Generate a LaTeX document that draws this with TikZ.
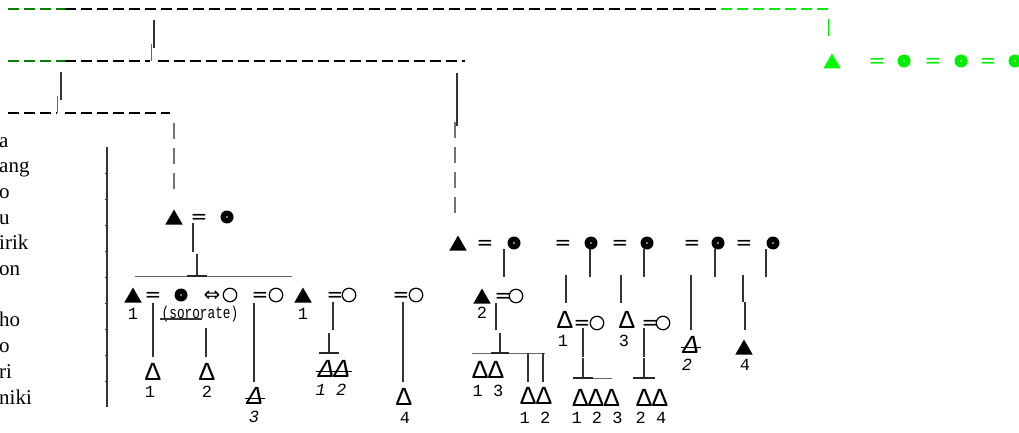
\documentclass[tikz,border=0pt]{standalone}
\usepackage{fontspec}
\usepackage{graphicx}
\setmainfont{Liberation Serif}
\newfontfamily\monof{Liberation Mono}
\newfontfamily\symf{DejaVu Sans}
\usetikzlibrary{shapes.geometric}
\definecolor{dkgreen}{RGB}{0,128,0}
\definecolor{ltgreen}{RGB}{0,240,0}

\tikzset{
  link/.style={line width=1.4pt, black!80},
  thinlink/.style={line width=0.8pt, black!60},
  barline/.style={line width=2pt, black!85},
  kin/.style={line width=1.3pt, dash pattern=on 11pt off 5pt},
  drop/.style={line width=1.1pt, black!55, dash pattern=on 16pt off 9pt},
  male/.style={regular polygon, regular polygon sides=3, fill, inner sep=0pt, minimum size=20pt, yshift=-2.5pt},
  fem/.style={circle, fill, inner sep=0pt, minimum size=13pt,
    path picture={\fill[white] (path picture bounding box.center) circle (0.9pt);}},
  wife/.style={circle, draw, line width=1.2pt, inner sep=0pt, minimum size=13.5pt},
  eq/.style={font=\symf\fontsize{20}{20}\selectfont, inner sep=0pt, anchor=base, yshift=-6.4pt},
  son/.style={font=\monof\fontsize{26}{26}\selectfont, inner sep=0pt, anchor=base, yshift=-7pt},
  sonit/.style={font=\monof\itshape\fontsize{26}{26}\selectfont, inner sep=0pt, anchor=base, yshift=-7pt},
  num/.style={font=\monof\fontsize{17}{17}\selectfont, inner sep=0pt, anchor=base, yshift=-5pt},
  numit/.style={font=\monof\itshape\fontsize{17}{17}\selectfont, inner sep=0pt, anchor=base, yshift=-5pt},
  word/.style={font=\fontsize{21}{21}\selectfont, inner sep=0pt, anchor=base west},
}
\newcommand\strike[1]{\draw[line width=1.6pt] ([xshift=-2pt,yshift=-3pt]#1.west) -- ([xshift=2pt,yshift=-3pt]#1.east);}
\newcommand\tee[4]{% x of stem, top, bottom, bar half width
  \draw[link] (#1,#2) -- (#1,#3);
  \draw[barline] (#1-#4,#3+1) -- (#1+#4,#3+1);}

\begin{document}
\begin{tikzpicture}[x=1pt, y=-1pt]
  \useasboundingbox (0,0) rectangle (1019,433);

  % lineage lines at the top
  \draw[kin, dkgreen] (8,9) -- (65,9);
  \draw[kin] (65,9) -- (721,9);
  \draw[kin, ltgreen] (721,9) -- (828,9);
  \draw[ltgreen, line width=1pt] (828,19) -- (828,36);
  \draw[link] (154,20) -- (154,48);
  \draw[thinlink] (151,44) -- (151,61);
  \draw[kin, dkgreen] (8,61) -- (65,61);
  \draw[kin] (65,61) -- (150,61) (158,61) -- (465,61);
  \draw[link] (61,72) -- (61,100);
  \draw[thinlink] (57,96) -- (57,113);
  \draw[kin] (8,113) -- (57,113) (65,113) -- (170,113);
  \draw[drop] (174,123) -- (174,191);
  \draw[link] (457,73) -- (457,126);
  \draw[drop] (455,122) -- (455,217);

  % green line on the right
  \node[male, green] (gm) at (832,61) {};
  \node[eq, text=ltgreen] (ge1) at (877,61) {=};
  \node[fem, ltgreen] (gf1) at (904,61) {};
  \node[eq, text=ltgreen] (ge2) at (933,61) {=};
  \node[fem, ltgreen] (gf2) at (961,61) {};
  \node[eq, text=ltgreen] (ge3) at (988,61) {=};
  \node[fem, ltgreen] (gf3) at (1015,61) {};

  % names on the left
  \foreach \w [count=\i from 0] in {a,ang,o,u,irik,on,{},ho,o,ri,niki}
    \node[word] (w\i) at (-1,147+25.7*\i) {\w};
  \draw[line width=1.5pt, black!80] (107,147) -- (107,407);
  \foreach \k in {1,...,9}
    \draw[line width=1pt, black!80] (105,147+26*\k) -- (107,147+26*\k);

  % first family
  \node[male] (fA) at (174,217) {};
  \node[eq] (eA) at (199,217) {=};
  \node[fem] (mA) at (227,217) {};
  \draw[link] (193,223) -- (193,252);
  \draw[thinlink] (135,276) -- (292,276);
  \tee{197}{254}{275}{10}

  \node[male] (s1) at (133,295) {};
  \node[eq] (e1) at (153,295) {=};
  \node[fem] (w1) at (181,295) {};
  \node[eq] (iff) at (212,295) {⇔};
  \node[wife] (w2) at (230,295) {};
  \node[eq] (e2) at (260,295) {=};
  \node[wife] (w3) at (276,295) {};
  \node[male] (s2) at (303,295) {};
  \node[eq] (e3) at (335,295) {=};
  \node[wife] (w4) at (349,295) {};
  \node[eq] (e4) at (401,295) {=};
  \node[wife] (w5) at (416,295) {};
  \node[num] (n1) at (133,314) {1};
  \node[num] (soro) at (200,313) {\scalebox{0.75}[1]{(sororate)}};
  \draw[line width=1.2pt, black!80] (160,319) -- (202,319);
  \node[num] (n2) at (303,314) {1};

  \draw[link] (153,303) -- (153,357);
  \node[son] (c1) at (153,373) {Δ};
  \node[num] at (150,392) {1};
  \draw[link] (206,328) -- (206,357);
  \node[son] (c2) at (207,373) {Δ};
  \node[num] at (207,392) {2};
  \draw[link] (254,303) -- (254,382);
  \node[sonit] (c3) at (255,397) {Δ};
  \strike{c3}
  \node[numit] at (254,417) {3};
  \draw[link] (333,302) -- (333,330);
  \tee{329}{333}{352}{10}
  \node[sonit] (c12) at (334,370) {ΔΔ};
  \strike{c12}
  \node[numit] at (331,390) {1 2};
  \draw[link] (403,302) -- (403,382);
  \node[son] (c4) at (404,398) {Δ};
  \node[num] at (405,418) {4};

  % second family
  \node[male] (fB) at (458,243) {};
  \node[eq] at (485,243) {=};
  \node[fem] (mB1) at (514,243) {};
  \node[eq] at (563,243) {=};
  \node[fem] (mB2) at (591,243) {};
  \node[eq] at (620,243) {=};
  \node[fem] (mB3) at (647,243) {};
  \node[eq] at (692,243) {=};
  \node[fem] (mB4) at (718,243) {};
  \node[eq] at (744,243) {=};
  \node[fem] (mB5) at (773,243) {};
  \foreach \x in {504,590,644,715,766}
    \draw[link] (\x,249) -- (\x,277);
  \foreach \x in {566,621}
    \draw[link] (\x,275) -- (\x,303);
  \draw[link] (691,275) -- (691,330);
  \draw[link] (743,275) -- (743,302) (745,302) -- (745,330);

  \node[male] (b2) at (482,296) {};
  \node[eq] at (503,296) {=};
  \node[wife] (bw2) at (516,296) {};
  \node[num] at (482,313) {2};
  \draw[link] (496,303) -- (496,330);
  \draw[thinlink] (472,353) -- (545,353);
  \tee{500}{333}{352}{9}
  \draw[link] (528,353) -- (528,382) (543,353) -- (543,382);
  \node[son] (g13) at (488,371) {ΔΔ};
  \node[num] at (488,391) {1 3};
  \node[son] (g12) at (536,397) {ΔΔ};
  \node[num] at (535,418) {1 2};

  \node[son] (b1) at (565,321) {Δ};
  \node[eq] at (582,323) {=};
  \node[wife] (bw1) at (597,323) {};
  \node[num] at (563,341) {1};
  \node[son] (b3) at (627,321) {Δ};
  \node[eq] at (650,323) {=};
  \node[wife] (bw3) at (663,323) {};
  \node[num] at (624,341) {3};
  \draw[link] (583,328) -- (583,357);
  \draw[thinlink] (593,378) -- (612,378);
  \tee{583}{358}{377}{10}
  \node[son] (g123) at (596,399) {ΔΔΔ};
  \node[num] at (597,418) {1 2 3};
  \draw[link] (644,328) -- (644,357);
  \tee{644}{358}{377}{11}
  \node[son] (g24) at (652,399) {ΔΔ};
  \node[num] at (651,418) {2 4};

  \node[sonit] (b2d) at (691,346) {Δ};
  \strike{b2d}
  \node[numit] at (687,365) {2};
  \node[male] (b4) at (744,347) {};
  \node[num] at (745,365) {4};
\end{tikzpicture}
\end{document}
